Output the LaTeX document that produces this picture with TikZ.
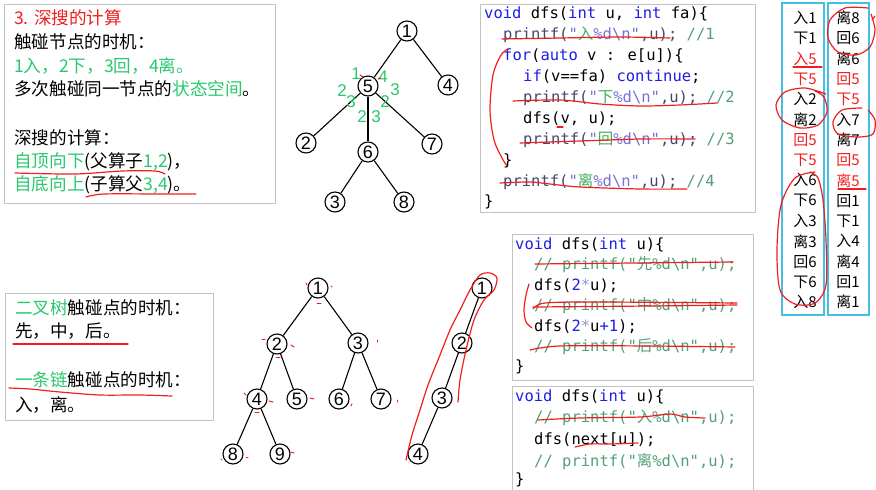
\documentclass[tikz,border=0pt]{standalone}
\usepackage{fontspec}
\newfontfamily\cjk{Noto Sans CJK SC}
\newfontfamily\monof{DejaVu Sans Mono}
\newfontfamily\numf{Liberation Sans}
\definecolor{gr}{RGB}{40,200,110}
\definecolor{rd}{RGB}{240,30,30}
\definecolor{kwc}{RGB}{30,30,230}
\definecolor{cmc}{RGB}{80,160,120}
\definecolor{pfc}{RGB}{70,70,110}
\definecolor{stc}{RGB}{115,115,215}
\definecolor{chc}{RGB}{60,175,95}
\definecolor{boxc}{RGB}{195,195,195}
\definecolor{cyc}{RGB}{70,190,225}
\definecolor{stc2}{RGB}{150,150,200}
\newcommand\ckw[1]{\textcolor{kwc}{#1}}
\newcommand\ccm[1]{\textcolor{cmc}{#1}}
\newcommand\cpf[1]{\textcolor{pfc}{#1}}
\newcommand\cst[1]{\textcolor{stc}{#1}}
\newcommand\cch[1]{\textcolor{chc}{\cjk #1}}
\newcommand\cgr[1]{\textcolor{gr}{#1}}
\newcommand\bsl{\textbackslash}
\begin{document}
\begin{tikzpicture}[x=1pt,y=-1pt,
  txt/.style={anchor=west, inner sep=0pt, font=\cjk\fontsize{17.6}{20}\selectfont, text height=13pt, text depth=4pt},
  code/.style={anchor=west, inner sep=0pt, font=\monof\fontsize{15.5}{18}\selectfont, text height=11pt, text depth=3pt},
  col/.style={inner sep=0pt, font=\cjk\fontsize{15}{18}\selectfont},
  tn/.style={circle, draw, line width=1.1pt, minimum size=20pt, inner sep=0pt, font=\numf\fontsize{18}{18}\selectfont},
  lab/.style={text=gr, font=\numf\fontsize{17}{17}\selectfont, inner sep=0pt},
  ink/.style={draw=rd, line width=1.2pt, line cap=round, line join=round},
  boxs/.style={draw=boxc, line width=1pt},
  cbox/.style={draw=cyc, line width=1.2pt},
  edge/.style={line width=1.1pt}]
\useasboundingbox (0,0) rectangle (876,490);

% ---------- box 1 text ----------
\draw[boxs] (4,4) rectangle (275,203);
\node[txt, text=rd] (t1) at (14,20) {3. 深搜的计算};
\node[txt] (t2) at (14,44) {触碰节点的时机：};
\node[txt, text=gr] (t3) at (14,68) {1入，2下，3回，4离。};
\node[txt] (t4) at (14,91) {多次触碰同一节点的\cgr{状态空间}。};
\node[txt] (t5) at (14,140) {深搜的计算：};
\node[txt] (t6) at (14,163) {\cgr{自顶向下}(父算子\cgr{1,2})，};
\node[txt] (t7) at (14,186) {\cgr{自底向上}(子算父\cgr{3,4})。};
\draw[ink] plot[smooth] coordinates {(15,173) (75,174) (122,171) (155,171) (165,174)};
\draw[ink] plot[smooth] coordinates {(86,197) (104,194) (160,194) (196,194)};

% ---------- top tree ----------
\node[tn] (a1) at (407,31) {1};
\node[tn] (a4) at (448,85) {4};
\node[tn] (a5) at (368,86) {5};
\node[tn] (a2) at (306,143) {2};
\node[tn] (a7) at (432,144) {7};
\node[tn] (a6) at (368,152) {6};
\node[tn] (a3) at (335,202) {3};
\node[tn] (a8) at (404,202) {8};
\draw[edge] (a1) -- (a5);
\draw[edge] (a1) -- (a4);
\draw[edge] (a5) -- (a2);
\draw[edge] (a5) -- (a6);
\draw[edge] (a5) -- (a7);
\draw[edge] (a6) -- (a3);
\draw[edge] (a6) -- (a8);
\node[lab] (g1) at (356,74) {1};
\node[lab] (g2) at (383,77) {4};
\node[lab] (g3) at (342,91) {2};
\node[lab] (g4) at (351,102) {3};
\node[lab] (g5) at (395,90) {3};
\node[lab] (g6) at (385,102) {2};
\node[lab] (g7) at (362,117) {2};
\node[lab] (g8) at (376,117) {3};
\draw[ink, line width=1pt] (360,75) -- (363,77);
\draw[ink, line width=1pt] (378,79) -- (381,78);

% ---------- code box 1 ----------
\draw[boxs] (480,4) rectangle (755,212);
\node[code] (c1) at (484,14) {\ckw{void} dfs(\ckw{int} u, \ckw{int} fa)\{};
\node[code] (c2) at (503,35) {\cpf{printf(}\cst{"}\cch{入}\cst{\%d\bsl n"}\cpf{,u);} \ccm{//1}};
\node[code] (c3) at (503,56) {\ckw{for}(\ckw{auto} v : e[u])\{};
\node[code] (c4) at (523,77) {\ckw{if}(v==fa) \ckw{continue};};
\node[code] (c5) at (523,98) {\cpf{printf(}\cst{"}\cch{下}\cst{\%d\bsl n"}\cpf{,u);} \ccm{//2}};
\node[code] (c6) at (523,119) {dfs(v, u);};
\node[code] (c7) at (523,140) {\cpf{printf(}\cst{"}\cch{回}\cst{\%d\bsl n"}\cpf{,u);} \ccm{//3}};
\node[code] (c8) at (503,161) {\}};
\node[code] (c9) at (503,182) {\cpf{printf(}\cst{"}\cch{离}\cst{\%d\bsl n"}\cpf{,u);} \ccm{//4}};
\node[code] (c10) at (484,202) {\}};
\draw[ink] plot[smooth] coordinates {(502,39) (560,38) (620,37) (670,38)};
\draw[ink] plot[smooth] coordinates {(508,49) (501,55) (493,75) (490,110) (494,140) (502,158) (507,166)};
\draw[ink] plot[smooth] coordinates {(513,101) (560,100) (600,104) (640,106) (680,105) (717,103)};
\draw[ink] (557,127) -- (563,127);
\draw[ink] plot[smooth] coordinates {(520,143) (580,141) (640,139) (695,139)};
\draw[ink] plot[smooth] coordinates {(500,183) (530,182) (550,184) (580,187) (640,189) (687,189)};

% ---------- columns ----------
\draw[cbox] (782,3) rectangle (824,315);
\draw[cbox] (828,3) rectangle (869,315);
\foreach \t/\c [count=\i from 0] in {入1/black,下1/black,入5/rd,下5/rd,入2/black,离2/black,回5/rd,下5/rd,入6/black,下6/black,入3/black,离3/black,回6/black,下6/black,入8/black}
  \node[col, text=\c] (l\i) at (805,{18+20.3*\i}) {\t};
\foreach \t/\c [count=\i from 0] in {离8/black,回6/black,离6/black,回5/rd,下5/rd,入7/black,离7/black,回5/rd,离5/rd,回1/black,下1/black,入4/black,离4/black,回1/black,离1/black}
  \node[col, text=\c] (r\i) at (848,{18+20.3*\i}) {\t};
\draw[ink] (793,67) -- (822,67);
\draw[ink] (838,189) -- (866,189);
\draw[ink] plot[smooth] coordinates {(868,8) (845,8) (830,20) (828,38) (838,52) (856,55) (870,47) (875,30) (871,14)};
\draw[ink] (872,20) -- (875,16);
\draw[ink] plot[smooth] coordinates {(826,94) (805,88) (785,92) (776,105) (782,120) (800,128) (818,125) (827,112) (824,97) (815,91)};
\draw[ink] plot[smooth] coordinates {(862,108) (842,110) (833,122) (838,134) (858,137) (873,134) (875,120) (868,110)};
\draw[ink] plot[smooth] coordinates {(815,172) (795,178) (781,205) (777,250) (780,290) (795,304) (815,303) (826,285) (826,240) (823,200) (818,178) (810,172)};

% ---------- box 5 text ----------
\draw[boxs] (5,293) rectangle (213,420);
\node[txt] (b1) at (15,310) {\cgr{二叉树}触碰点的时机：};
\node[txt] (b2) at (15,333) {先，中，后。};
\node[txt] (b3) at (15,382) {\cgr{一条链}触碰点的时机：};
\node[txt] (b4) at (15,407) {入，离。};
\draw[ink] (13,344) -- (128,344);
\draw[ink] plot[smooth] coordinates {(9,388) (30,389) (60,392) (100,395) (140,395) (172,396)};

% ---------- binary tree ----------
\node[tn] (b1n) at (318,288) {1};
\node[tn] (b2n) at (277,344) {2};
\node[tn] (b3n) at (358,343) {3};
\node[tn] (b4n) at (257,399) {4};
\node[tn] (b5n) at (297,399) {5};
\node[tn] (b6n) at (339,399) {6};
\node[tn] (b7n) at (381,399) {7};
\node[tn] (b8n) at (233,454) {8};
\node[tn] (b9n) at (280,454) {9};
\draw[edge] (b1n) -- (b2n);
\draw[edge] (b1n) -- (b3n);
\draw[edge] (b2n) -- (b4n);
\draw[edge] (b2n) -- (b5n);
\draw[edge] (b3n) -- (b6n);
\draw[edge] (b3n) -- (b7n);
\draw[edge] (b4n) -- (b8n);
\draw[edge] (b4n) -- (b9n);
\foreach \xa/\ya/\xb/\yb in {306/283/307/285, 331/286/332/287, 317/303/321/303,
  262/339/265/339, 291/345/294/347, 276/357/280/357, 377/340/377/342,
  244/393/246/395, 269/401/273/402, 255/412/259/412, 310/398/314/399,
  352/404/351/406, 397/400/397/402, 221/459/222/460, 246/457/248/457, 291/452/294/453}
  \draw[ink, line width=1pt] (\xa,\ya) -- (\xb,\yb);

% ---------- chain ----------
\node[tn] (k1) at (482,288) {1};
\node[tn] (k2) at (462,343) {2};
\node[tn] (k3) at (442,398) {3};
\node[tn] (k4) at (418,454) {4};
\draw[edge] (k1) -- (k2);
\draw[edge] (k2) -- (k3);
\draw[edge] (k3) -- (k4);
\draw[ink] plot[smooth] coordinates {(458,402) (460,380) (466,350) (474,320) (484,300) (494,290) (497,278) (490,273) (480,275) (470,290) (460,310) (450,330) (440,355) (428,385) (420,410) (412,435) (406,460)};

% ---------- code box 2 ----------
\draw[boxs] (512,234) rectangle (753,380);
\node[code] (d1) at (515,245) {\ckw{void} dfs(\ckw{int} u)\{};
\node[code] (d2) at (534,265) {\ccm{// printf("\cjk 先\monof\%d\bsl n",u);}};
\node[code] (d3) at (534,286) {dfs(\ckw{2}\textcolor{stc2}{*}u);};
\node[code] (d4) at (534,306) {\ccm{// printf("\cjk 中\monof\%d\bsl n",u);}};
\node[code] (d5) at (534,327) {dfs(\ckw{2}\textcolor{stc2}{*}u\ckw{+1});};
\node[code] (d6) at (534,347) {\ccm{// printf("\cjk 后\monof\%d\bsl n",u);}};
\node[code] (d7) at (515,367) {\}};
\draw[ink] (535,264) -- (733,262);
\draw[ink] plot[smooth] coordinates {(529,284) (526,295) (524,310) (526,322) (532,328)};
\draw[ink] plot[smooth] coordinates {(533,309) (545,303) (600,302) (737,303)};
\draw[ink] plot[smooth] coordinates {(533,307) (650,306) (737,305)};
\draw[ink] plot[smooth] coordinates {(530,350) (560,346) (650,346) (735,347)};

% ---------- code box 3 ----------
\draw[boxs] (512,386) rectangle (753,495);
\node[code] (e1) at (515,397) {\ckw{void} dfs(\ckw{int} u)\{};
\node[code] (e2) at (534,418) {\ccm{// printf("\cjk 入\monof\%d\bsl n",u);}};
\node[code] (e3) at (534,440) {dfs(next[u]);};
\node[code] (e4) at (534,462) {\ccm{// printf("\cjk 离\monof\%d\bsl n",u);}};
\node[code] (e5) at (515,480) {\}};
\draw[ink] plot[smooth] coordinates {(538,420) (580,418) (640,417) (670,414) (685,417) (705,418)};
\draw[ink] plot[smooth] coordinates {(575,447) (590,444) (610,444) (638,443)};
\end{tikzpicture}
\end{document}
